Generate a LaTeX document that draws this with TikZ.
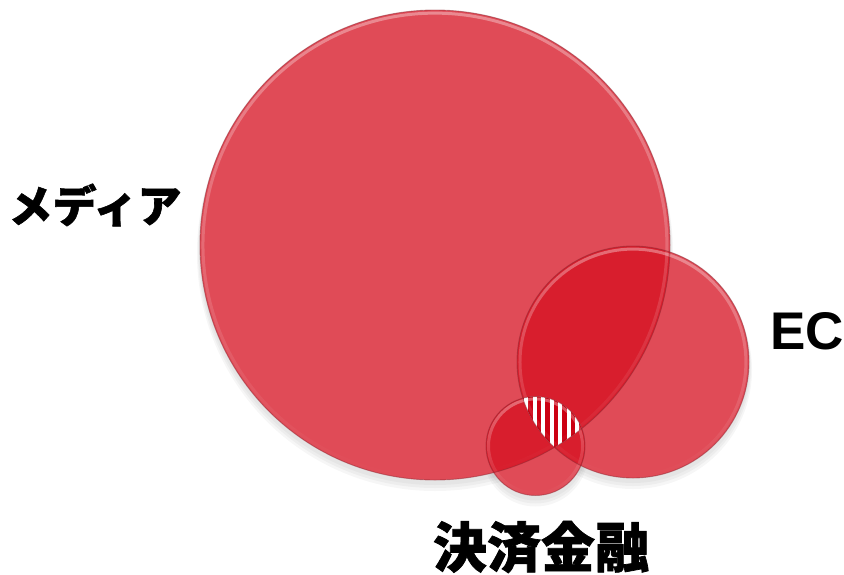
\documentclass[tikz,border=0pt]{standalone}
\usepackage{fontspec}
\setmainfont{Liberation Sans}
\newfontfamily\cjk{Noto Sans CJK JP}[BoldFeatures={FakeBold=1.3}]
\usetikzlibrary{fadings}
\definecolor{vred}{RGB}{214,15,31}
\definecolor{vedge}{RGB}{140,40,50}
\definecolor{vstripe}{RGB}{204,0,18}
\tikzset{
  venn/.style={fill=vred, fill opacity=0.75},
  vennedge/.style={draw=vedge, draw opacity=0.5, line width=0.9pt},
  vennshine/.style={draw=white, draw opacity=0.35, line width=3pt, path fading=south},
  vshadow/.style={fill=black, fill opacity=0.035},
  stripe/.style={draw=vstripe, line width=4.3pt},
  lbl/.style={inner sep=0pt, text=black},
}
\begin{document}
\begin{tikzpicture}[x=1pt,y=-1pt]
\useasboundingbox (0,0) rectangle (844,574);
\coordinate (M) at (435,245);
\coordinate (E) at (633,362);
\coordinate (F) at (535.5,446);
% soft shadows
\foreach \d/\e in {1/4,2/6,3/8}{
  \fill[vshadow] ([yshift=-\e pt]M) circle ({235+\d});
  \fill[vshadow] ([yshift=-\e pt]E) circle ({116+\d});
  \fill[vshadow] ([yshift=-\e pt]F) circle ({49.5+\d});
}
\fill[white] (M) circle (235);
\fill[white] (E) circle (116);
\fill[white] (F) circle (49.5);
% fills
\fill[venn] (M) circle (235);
\fill[venn] (E) circle (116);
\fill[venn] (F) circle (49.5);
% striped triple intersection
\begin{scope}
  \clip (M) circle (235);
  \clip (E) circle (116);
  \clip (F) circle (49.5);
  \fill[white] (480,390) rectangle (600,470);
  \foreach \x in {522,530.5,...,590}{
    \draw[stripe] (\x,390) -- (\x,470);
  }
\end{scope}
% outlines and shine
\draw[vennshine] (M) circle (232);
\draw[vennshine] (E) circle (113);
\draw[vennshine] (F) circle (47);
\draw[vennedge] (M) circle (235);
\draw[vennedge] (E) circle (116);
\draw[vennedge] (F) circle (49.5);
% labels
\node[lbl, font=\cjk\bfseries\fontsize{44}{44}\selectfont] (media) at (95,205) {メディア};
\node[lbl, font=\bfseries\fontsize{53}{53}\selectfont] (ec) at (807,331) {EC};
\node[lbl, font=\cjk\bfseries\fontsize{54}{54}\selectfont] (kessai) at (541,547) {決済金融};
\end{tikzpicture}
\end{document}
